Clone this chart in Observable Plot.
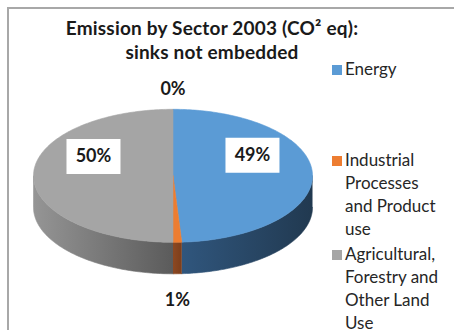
<!DOCTYPE html>
<html><head><meta charset="utf-8">
<script src="https://cdn.jsdelivr.net/npm/d3@7"></script>
<script src="https://cdn.jsdelivr.net/npm/@observablehq/plot@0.6"></script>
<style>
body{margin:0;background:#fff;font-family:Lato,"Open Sans",sans-serif;}
#wrap{position:relative;width:454px;height:330px;overflow:hidden;background:#fff;}
#frame{position:absolute;left:7px;top:7px;width:520px;height:400px;border-left:2px solid #a8a8a8;border-top:2px solid #a8a8a8;}
#chart{position:absolute;left:0;top:0;}
#title{position:absolute;left:0;top:16px;width:424px;text-align:center;font-weight:bold;font-size:19px;letter-spacing:0.2px;line-height:24px;color:#1a1a1a;}
.leg{position:absolute;left:345px;font-size:17px;line-height:23px;color:#262626;white-space:nowrap;}
.sw{position:absolute;left:-13px;top:8px;width:10px;height:10px;}
</style></head>
<body>
<div id="wrap"><div id="frame"></div><div id="chart"></div><div id="title"></div><div id="legend"></div></div>
<script>
// ---- data ----
const titleLines = ["Emission by Sector 2003 (CO² eq):", "sinks not embedded"];
const categories = ["Energy", "Industrial Processes and Product use", "Agricultural, Forestry and Other Land Use", "Waste"];
const shares = [49, 1, 50, 0];
const legendLines = [["Energy"], ["Industrial", "Processes", "and Product", "use"], ["Agricultural,", "Forestry and", "Other Land", "Use"]];
const colors = ["#5B9BD5", "#ED7D31", "#A5A5A5", "#FFC000"];
const wallColors = [["#30567d", "#213950"], ["#8c4822", "#7c3e1b"], ["#959595", "#5b5b5b"], ["#8a6d00", "#6a5400"]];

// ---- geometry derived from the data ----
const DEPTH = 0.474;
const rad = a => a * Math.PI / 180;
const total = d3.sum(shares);
let acc = 0;
const slices = categories.map((cat, i) => {
  const a0 = acc / total * 360; acc += shares[i]; const a1 = acc / total * 360;
  return {cat, i, a0, a1, mid: (a0 + a1) / 2, value: shares[i]};
});
function arc(a0, a1, dy) {
  const n = Math.max(2, Math.ceil(a1 - a0));
  return d3.range(n + 1).map(k => { const a = rad(a0 + (a1 - a0) * k / n); return [Math.sin(a), Math.cos(a) + dy]; });
}
const tops = slices.filter(s => s.a1 > s.a0).flatMap(s =>
  [[0, 0], ...arc(s.a0, s.a1, 0), [0, 0]].map(([x, y]) => ({cat: s.cat, x, y})));
const walls = slices.map(s => {
  const b0 = Math.max(s.a0, 90), b1 = Math.min(s.a1, 270);
  if (b1 <= b0) return null;
  const pts = [...arc(b0, b1, 0), ...arc(b0, b1, -DEPTH).reverse()].map(([x, y]) => ({x, y}));
  return {s, pts};
}).filter(Boolean);
const labels = slices.map(s => {
  const a = rad(s.mid), inside = s.value >= 10;
  const x = inside ? Math.sin(a) * 0.57 : Math.sin(a);
  const y = inside ? Math.cos(a) * 0.57 + 0.29 : Math.cos(a) * 1.3 - (Math.cos(a) < 0 ? DEPTH + 0.1 : 0);
  return {x, y, inside, text: d3.format(".0%")(s.value / total)};
});
const box = {draw(ctx) { ctx.rect(-27, -17.5, 54, 35); }};

const chart = Plot.plot({
  width: 454, height: 330, margin: 0,
  x: {domain: [-1, 1], range: [33, 312], axis: null},
  y: {domain: [-1, 1], range: [241.8, 108.8], axis: null},
  color: {domain: categories, range: colors},
  style: {background: "transparent", overflow: "visible"},
  marks: [
    ...walls.map(w => Plot.line(w.pts, {x: "x", y: "y", fill: `url(#wall${w.s.i})`, stroke: `url(#wall${w.s.i})`, strokeWidth: 0.6, curve: "linear"})),
    Plot.line(tops, {x: "x", y: "y", z: "cat", fill: "cat", stroke: "cat", strokeWidth: 0.6, curve: "linear"}),
    Plot.dot(labels.filter(d => d.inside), {x: "x", y: "y", symbol: box, fill: "white", stroke: "none", r: 10}),
    Plot.text(labels, {x: "x", y: "y", text: "text", fontSize: 18, fontWeight: "bold", fill: "#1a1a1a", fontFamily: "Lato, sans-serif"})
  ]
});
// gradients for the side walls
const defs = d3.select(chart).insert("defs", ":first-child");
walls.forEach(w => {
  const g = defs.append("linearGradient").attr("id", `wall${w.s.i}`).attr("x1", 0).attr("x2", 1).attr("y1", 0).attr("y2", 0);
  g.append("stop").attr("offset", 0).attr("stop-color", wallColors[w.s.i][0]);
  g.append("stop").attr("offset", 1).attr("stop-color", wallColors[w.s.i][1]);
});
document.getElementById("chart").append(chart);

document.getElementById("title").innerHTML = titleLines.join("<br>");
const legendTops = [57, 148, 242];
const leg = document.getElementById("legend");
legendLines.forEach((lines, i) => {
  const div = document.createElement("div");
  div.className = "leg";
  div.style.top = legendTops[i] + "px";
  div.innerHTML = `<span class="sw" style="background:${colors[i]}"></span>` + lines.join("<br>");
  leg.append(div);
});
</script>
</body></html>
